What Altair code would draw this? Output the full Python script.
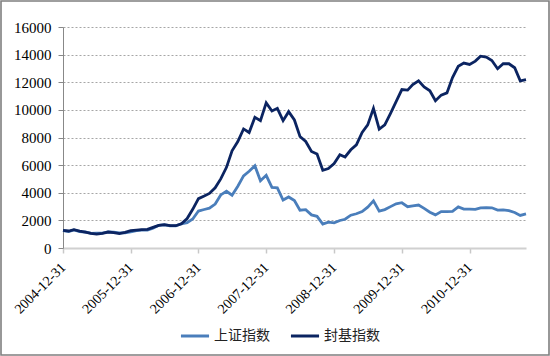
import altair as alt
import pandas as pd

# Monthly month-end dates 2004-12 .. 2011-10
months = pd.date_range("2004-12-31", "2011-10-31", freq="ME").strftime("%Y-%m-%d").tolist()

series_names = ["上证指数", "封基指数"]

sse_index = [
    1266, 1191, 1306, 1181, 1159, 1060, 1080, 1083, 1162, 1155, 1092, 1099,
    1161, 1258, 1299, 1298, 1440, 1642, 1672, 1612, 1601, 1752, 1837, 2099,
    2675, 2786, 2881, 3183, 3841, 4109, 3820, 4471, 5218, 5552, 5954, 4871,
    5262, 4383, 4348, 3473, 3693, 3433, 2736, 2776, 2397, 2293, 1729, 1871,
    1821, 1991, 2082, 2373, 2477, 2633, 2959, 3412, 2667, 2779, 2996, 3195,
    3277, 2989, 3052, 3110, 2871, 2592, 2398, 2638, 2639, 2656, 2979, 2820,
    2808, 2791, 2905, 2928, 2911, 2743, 2762, 2701, 2568, 2359, 2469,
]

fund_index = [
    1277, 1230, 1325, 1230, 1157, 1060, 1012, 1060, 1157, 1110, 1036, 1133,
    1253, 1300, 1325, 1350, 1494, 1640, 1687, 1614, 1614, 1750, 2130, 2800,
    3570, 3760, 3950, 4360, 5000, 5840, 7040, 7710, 8620, 8360, 9460, 9220,
    10510, 9920, 10110, 9220, 9870, 9270, 8070, 7710, 6990, 6800, 5630, 5750,
    6110, 6750, 6590, 7110, 7470, 8360, 8910, 10110, 8600, 8910, 9750, 10590,
    11470, 11430, 11830, 12100, 11660, 11380, 10660, 11070, 11230, 12340, 13150, 13390,
    13290, 13530, 13890, 13820, 13580, 12980, 13340, 13340, 13050, 12100, 12190,
]

tick_dates = ["2004-12-31", "2005-12-31", "2006-12-31", "2007-12-31",
              "2008-12-31", "2009-12-31", "2010-12-31"]
y_ticks = [0, 2000, 4000, 6000, 8000, 10000, 12000, 14000, 16000]
colors = ["#4a7ebb", "#0b2461"]

rows = []
for name, vals in zip(series_names, [sse_index, fund_index]):
    for d, v in zip(months, vals):
        rows.append({"date": d, "value": v, "series": name})
df = pd.DataFrame(rows)

tick_dt = [alt.DateTime(year=int(t[:4]), month=int(t[5:7]), date=int(t[8:]), utc=True) for t in tick_dates]

SERIF = "Liberation Serif"

lines = alt.Chart(df).mark_line(strokeWidth=2.8).encode(
    x=alt.X("date:T",
            scale=alt.Scale(type="utc", domain=[alt.DateTime(year=2004, month=12, date=31, utc=True),
                                                alt.DateTime(year=2011, month=10, date=31, utc=True)]),
            axis=alt.Axis(values=tick_dt, format="%Y-%m-%d", title=None, labelAngle=-45,
                          labelAlign="right", labelBaseline="middle", labelPadding=12,
                          labelFont=SERIF, labelFontSize=14, labelColor="#000000",
                          domainColor="#d0d0d0", domainWidth=2, tickColor="#c8c8c8",
                          tickWidth=1.5, tickSize=5, grid=False, labelOverlap=False)),
    y=alt.Y("value:Q",
            scale=alt.Scale(domain=[0, 16000], nice=False),
            axis=alt.Axis(values=y_ticks, format="d", title=None,
                          labelFont=SERIF, labelFontSize=15, labelColor="#000000",
                          labelPadding=7, tickSize=5, tickColor="#888888",
                          domainColor="#888888", domainWidth=1,
                          grid=True, gridColor="#a6a6a6", gridDash=[2, 2], gridWidth=1)),
    color=alt.Color("series:N",
                    scale=alt.Scale(domain=series_names, range=colors),
                    sort=series_names,
                    legend=alt.Legend(title=None, orient="none", legendX=116, legendY=293,
                                      direction="horizontal", symbolType="stroke",
                                      symbolStrokeWidth=3, symbolSize=790,
                                      labelFont="Noto Sans CJK SC", labelFontSize=14,
                                      labelColor="#222222", labelOffset=3,
                                      columnPadding=14, padding=0)),
    order=alt.Order("series:N"),
)

border = alt.Chart(pd.DataFrame({"a": [0]})).mark_rect(
    fill=None, stroke="#7f7f7f", strokeWidth=1.6
).encode(
    x=alt.value(-62), x2=alt.value(486), y=alt.value(-26), y2=alt.value(328)
)

chart = alt.layer(lines, border).properties(
    width=463, height=221,
    background="white",
    autosize=alt.AutoSizeParams(type="none"),
    padding={"left": 63, "top": 27, "right": 24, "bottom": 108},
).configure_view(stroke=None)

chart.save("out.html", embed_options={"renderer": "svg", "actions": False})
